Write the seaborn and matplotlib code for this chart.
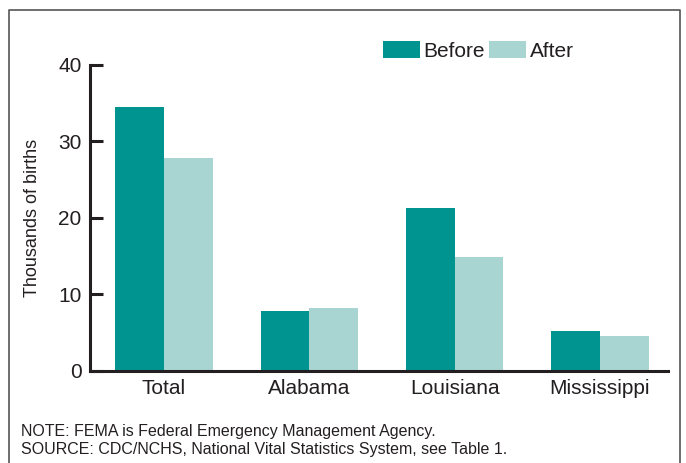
import matplotlib
matplotlib.use('Agg')
import matplotlib.pyplot as plt
import seaborn as sns
import pandas as pd
from matplotlib.lines import Line2D

states = ['Total', 'Alabama', 'Louisiana', 'Mississippi']
before = [34.5, 7.8, 21.3, 5.2]
after = [27.8, 8.2, 14.9, 4.6]
periods = ['Before', 'After']
colors = ['#009490', '#a8d4d2']

df = pd.DataFrame({
    'state': states * 2,
    'period': ['Before'] * 4 + ['After'] * 4,
    'births': before + after,
})

sns.set_style('white')
plt.rcParams['font.family'] = ['Liberation Sans', 'DejaVu Sans']
ink = '#231f20'

fig = plt.figure(figsize=(6.86, 4.63), dpi=100)
ax = fig.add_axes([0.131, 0.199, 0.843, 0.661])

sns.barplot(data=df, x='state', y='births', hue='period', hue_order=periods,
            palette=colors, width=0.67, saturation=1, linewidth=0, ax=ax)

ax.set_ylim(0, 40)
ax.set_xlim(-0.51, 3.47)
ax.set_yticks([0, 10, 20, 30, 40])
ax.set_xlabel('')
ax.set_ylabel('Thousands of births', fontsize=13, color=ink, labelpad=12)
ax.tick_params(axis='y', direction='in', length=9, width=2.2, color=ink,
               labelsize=15, labelcolor=ink, left=True, pad=6)
ax.tick_params(axis='x', length=0, labelsize=15, labelcolor=ink, pad=6)
for s in ['top', 'right']:
    ax.spines[s].set_visible(False)
for s in ['left', 'bottom']:
    ax.spines[s].set_linewidth(2.2)
    ax.spines[s].set_color(ink)

ax.legend(loc='center left', bbox_to_anchor=(0.507, 1.045), ncol=2, frameon=False,
          fontsize=15, handlelength=1.75, handleheight=0.85, borderpad=0,
          handletextpad=0.2, columnspacing=0.2, borderaxespad=0)
for t in ax.get_legend().get_texts():
    t.set_color(ink)

fig.text(0.03, 0.058, 'NOTE: FEMA is Federal Emergency Management Agency.',
         fontsize=11.5, color=ink)
fig.text(0.03, 0.020, 'SOURCE: CDC/NCHS, National Vital Statistics System, see Table 1.',
         fontsize=11.5, color=ink)

# frame around the chart
x0, x1, ytop = 9 / 686, 680 / 686, 1 - 10 / 463
fig.add_artist(Line2D([x0, x0, x1, x1], [0, ytop, ytop, 0],
                      transform=fig.transFigure, color='#555555', lw=1.2))

fig.savefig('out.png', dpi=100)
